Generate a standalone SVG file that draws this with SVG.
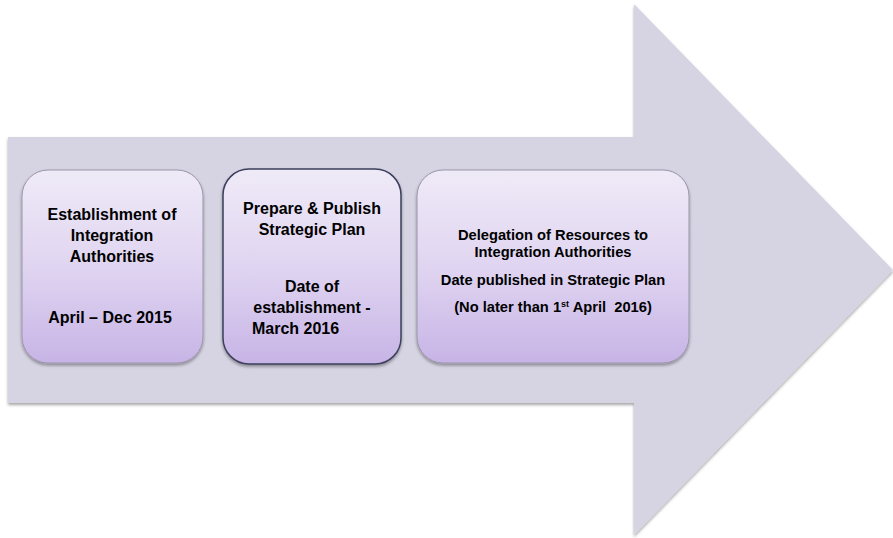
<svg xmlns="http://www.w3.org/2000/svg" width="893" height="538" viewBox="0 0 893 538">
<defs>
<linearGradient id="boxGrad" x1="0" y1="0" x2="0" y2="1">
<stop offset="0" stop-color="#efeaf7"/>
<stop offset="0.5" stop-color="#e0d5f1"/>
<stop offset="1" stop-color="#c7b4e6"/>
</linearGradient>
<filter id="shadow" x="-10%" y="-10%" width="120%" height="125%">
<feDropShadow dx="0" dy="2" stdDeviation="1.5" flood-color="#000" flood-opacity="0.35"/>
</filter>
</defs>
<style>
.box{fill:url(#boxGrad);stroke:#9a95aa;stroke-width:1;filter:url(#shadow);}
.box2{stroke:#3b3f5c;stroke-width:1.5;}
text{font-family:"Liberation Sans",Arial,sans-serif;font-weight:bold;fill:#000;text-anchor:middle;white-space:pre;}
.t14{font-size:16px;}
.t13{font-size:14.7px;}
</style>
<g id="arrow">
<polygon points="8,137 634,137 634,4 893,270 634,535 634,403 8,403" fill="#d6d3e2" filter="url(#shadow)"/>
</g>
<g id="connectors"></g>
<g id="node1">
<rect class="box" x="22" y="170" width="181" height="193" rx="26"/>
<text class="t14" x="112" y="220">Establishment of</text>
<text class="t14" x="112" y="241">Integration</text>
<text class="t14" x="112" y="262">Authorities</text>
<text class="t14" x="110" y="323">April – Dec 2015</text>
</g>
<g id="node2">
<rect class="box box2" x="223" y="169" width="178" height="195" rx="26"/>
<text class="t14" x="312" y="214">Prepare &amp; Publish</text>
<text class="t14" x="312" y="235">Strategic Plan</text>
<text class="t14" x="312" y="292">Date of</text>
<text class="t14" x="312" y="313">establishment -</text>
<text class="t14" x="252" y="334" style="text-anchor:start">March 2016</text>
</g>
<g id="node3">
<rect class="box" x="417" y="170" width="272" height="193" rx="26"/>
<text class="t13" x="553" y="240">Delegation of Resources to</text>
<text class="t13" x="553" y="257">Integration Authorities</text>
<text class="t13" x="553" y="285">Date published in Strategic Plan</text>
<text class="t13" x="553" y="312">(No later than 1<tspan font-size="9" dy="-5">st</tspan><tspan dy="5"> April  2016)</tspan></text>
</g>
</svg>
